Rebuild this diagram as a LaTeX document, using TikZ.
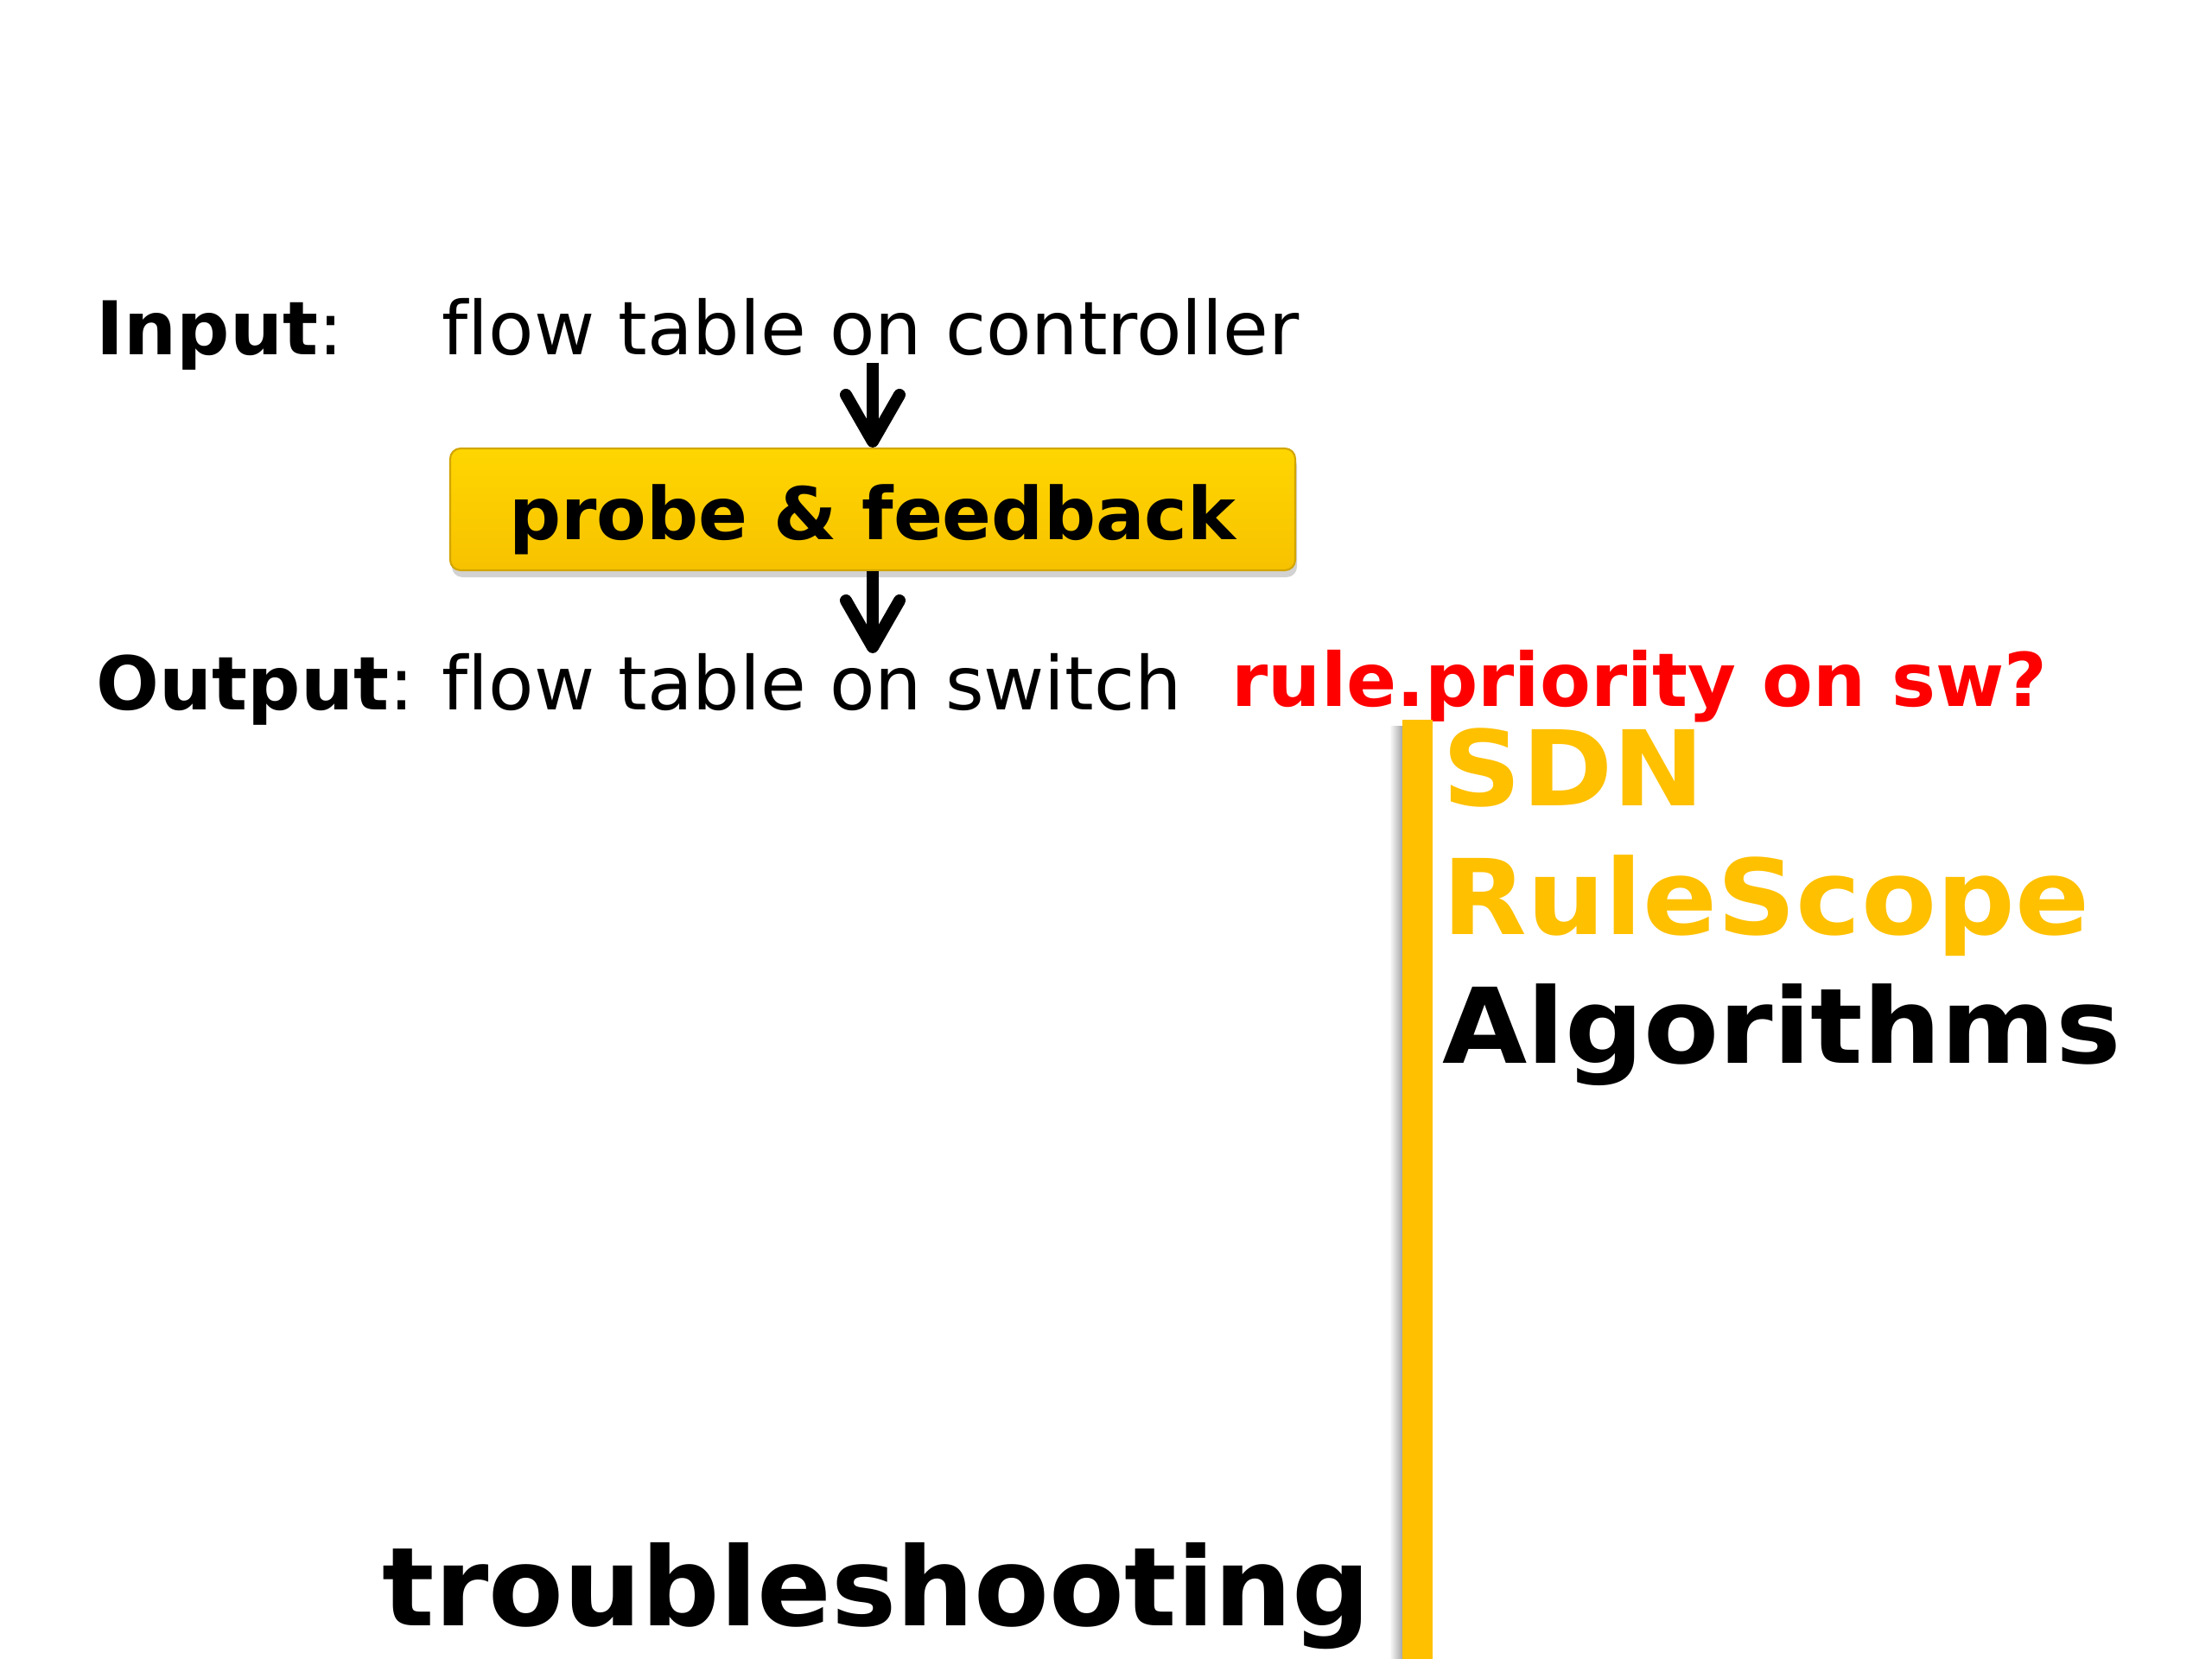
\documentclass[tikz,border=0pt]{standalone}
\usepackage{fontspec}
\setmainfont[Ligatures=NoCommon]{DejaVu Sans}
\usepackage{tikz}
\usetikzlibrary{arrows.meta, positioning, shadows}

\definecolor{gold}{HTML}{FFC000}
\definecolor{probetop}{HTML}{FFD600}
\definecolor{probebot}{HTML}{F7C200}
\definecolor{alertred}{HTML}{FF0000}

\begin{document}
\begin{tikzpicture}[
    txt/.style={anchor=base west, inner sep=0pt, font=\fontsize{24.4}{28}\selectfont},
    big/.style={anchor=base west, inner sep=0pt, font=\fontsize{34.4}{40}\selectfont\bfseries\addfontfeature{FakeStretch=1.05}},
    probebox/.style={rectangle, rounded corners=0.12cm, draw=probebot!85!black, line width=0.6pt,
        top color=probetop, bottom color=probebot,
        drop shadow={shadow xshift=0.02cm, shadow yshift=-0.08cm, opacity=0.35},
        minimum width=9.78cm, minimum height=1.41cm, inner sep=0pt,
        text height=0.70cm, text depth=0cm,
        font=\fontsize{23.9}{28}\selectfont\bfseries},
    flow/.style={line width=0.14cm, -{Straight Barb[length=0.54cm, width=0.62cm, line cap=round, line join=round]}}]

    \useasboundingbox[fill=white] (0,0) rectangle (25.6,-19.2);

    % input / output lines
    \node[txt] (in) at (1.11,-4.11) {\textbf{Input}:};
    \node[txt] (ctrl) at (5.11,-4.11) {flow table on controller};
    \node[probebox] (probe) at (10.10,-5.895) {probe \& feedback};
    \node[txt] (out) at (1.11,-8.21) {\textbf{Output}: };
    \node[txt] (sw) at (5.11,-8.21) {flow table on switch};
    \node[txt, text=alertred, font=\fontsize{24.4}{28}\selectfont\bfseries] (prio) at (14.25,-8.17) {rule.priority on sw?};

    \coordinate (top) at (10.10,-4.20);
    \coordinate (bot) at (10.10,-7.56);
    \draw[flow] (top) -- (probe.north);
    \draw[flow] (probe.south) -- (bot);

    % title bar
    \shade[left color=white, right color=gray!70] (16.08,-8.40) rectangle (16.23,-19.2);
    \fill[gold] (16.23,-8.33) rectangle (16.58,-19.2);
    \node[big, text=gold] (sdn) at (16.69,-9.32) {SDN};
    \node[big, text=gold] (rs) at (16.69,-10.81) {RuleScope};
    \node[big] (alg) at (16.69,-12.30) {Algorithms};
    \node[anchor=base west, inner sep=0pt, font=\fontsize{36}{42}\selectfont\bfseries] (trb) at (4.42,-18.81) {troubleshooting};
\end{tikzpicture}
\end{document}
